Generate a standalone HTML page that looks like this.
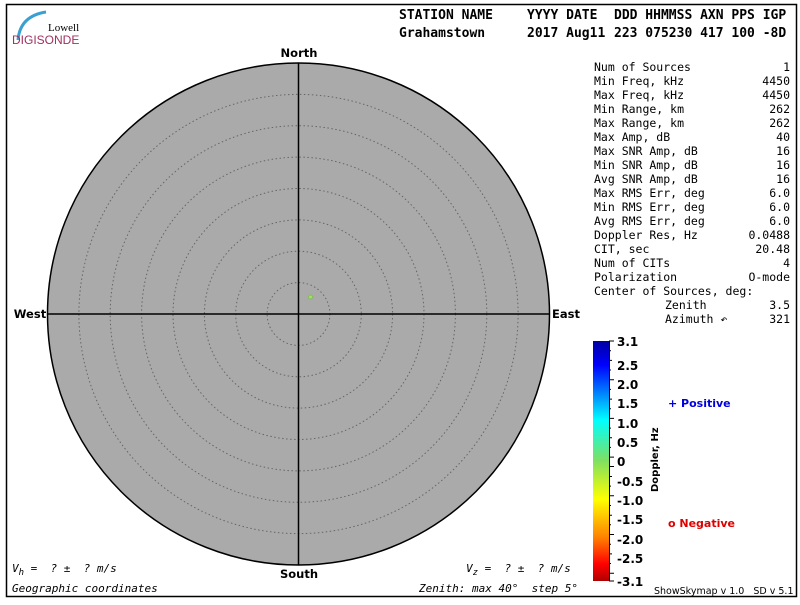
<!DOCTYPE html>
<html><head><meta charset="utf-8"><style>
body{margin:0;background:#fff}
.m{font-family:"DejaVu Sans Mono","Liberation Mono",monospace}
.s{font-family:"DejaVu Sans","Liberation Sans",sans-serif}
</style></head><body>
<svg width="800" height="600" xmlns="http://www.w3.org/2000/svg">
<defs>
<linearGradient id="cb" x1="0" y1="0" x2="0" y2="1">
<stop offset="0" stop-color="#0000a0"/>
<stop offset="0.1" stop-color="#0000ff"/>
<stop offset="0.33" stop-color="#00ffff"/>
<stop offset="0.5" stop-color="#80e060"/>
<stop offset="0.66" stop-color="#ffff00"/>
<stop offset="0.82" stop-color="#ff8000"/>
<stop offset="0.93" stop-color="#ff0000"/>
<stop offset="1" stop-color="#b00000"/>
</linearGradient>
</defs>
<rect x="6.5" y="4.5" width="790" height="592" fill="none" stroke="#000" stroke-width="1.5"/>
<path d="M18 40 Q20 16 46 12" stroke="#3aa0d0" stroke-width="3" fill="none"/>
<text x="48" y="31" font-size="11" style="font-family:'Liberation Serif',serif">Lowell</text>
<text x="12" y="44" font-size="12" fill="#a03060" style="font-family:'Liberation Sans',sans-serif">DIGISONDE</text>
<g font-size="13" font-weight="bold" class="m">
<text x="399" y="19">STATION NAME</text><text x="527" y="19">YYYY DATE</text><text x="614" y="19">DDD HHMMSS AXN PPS IGP</text>
<text x="399" y="37">Grahamstown</text><text x="527" y="37">2017 Aug11</text><text x="614" y="37">223 075230 417 100 -8D</text>
</g>
<circle cx="298.5" cy="314" r="251" fill="#aaaaaa" stroke="#000" stroke-width="1.5"/>
<g fill="none" stroke="#666" stroke-width="1" stroke-dasharray="1.5,2.5">
<circle cx="298.5" cy="314" r="31.4"/><circle cx="298.5" cy="314" r="62.8"/><circle cx="298.5" cy="314" r="94.1"/>
<circle cx="298.5" cy="314" r="125.5"/><circle cx="298.5" cy="314" r="156.9"/><circle cx="298.5" cy="314" r="188.3"/>
<circle cx="298.5" cy="314" r="219.6"/>
</g>
<line x1="298.5" y1="63" x2="298.5" y2="565" stroke="#000" stroke-width="1.5"/>
<line x1="47.5" y1="314" x2="549.5" y2="314" stroke="#000" stroke-width="1.5"/>
<circle cx="310.5" cy="297" r="2" fill="#a0e070" stroke="#80c050"/>
<g font-size="11.5" font-weight="bold" class="s" text-anchor="middle">
<text x="299" y="57">North</text><text x="299" y="578">South</text><text x="30" y="318">West</text><text x="566" y="318">East</text>
</g>
<g font-size="11.5" class="m">
<text x="594" y="71">Num of Sources</text><text x="790" y="71" text-anchor="end">1</text>
<text x="594" y="85">Min Freq, kHz</text><text x="790" y="85" text-anchor="end">4450</text>
<text x="594" y="99">Max Freq, kHz</text><text x="790" y="99" text-anchor="end">4450</text>
<text x="594" y="113">Min Range, km</text><text x="790" y="113" text-anchor="end">262</text>
<text x="594" y="127">Max Range, km</text><text x="790" y="127" text-anchor="end">262</text>
<text x="594" y="141">Max Amp, dB</text><text x="790" y="141" text-anchor="end">40</text>
<text x="594" y="155">Max SNR Amp, dB</text><text x="790" y="155" text-anchor="end">16</text>
<text x="594" y="169">Min SNR Amp, dB</text><text x="790" y="169" text-anchor="end">16</text>
<text x="594" y="183">Avg SNR Amp, dB</text><text x="790" y="183" text-anchor="end">16</text>
<text x="594" y="197">Max RMS Err, deg</text><text x="790" y="197" text-anchor="end">6.0</text>
<text x="594" y="211">Min RMS Err, deg</text><text x="790" y="211" text-anchor="end">6.0</text>
<text x="594" y="225">Avg RMS Err, deg</text><text x="790" y="225" text-anchor="end">6.0</text>
<text x="594" y="239">Doppler Res, Hz</text><text x="790" y="239" text-anchor="end">0.0488</text>
<text x="594" y="253">CIT, sec</text><text x="790" y="253" text-anchor="end">20.48</text>
<text x="594" y="267">Num of CITs</text><text x="790" y="267" text-anchor="end">4</text>
<text x="594" y="281">Polarization</text><text x="790" y="281" text-anchor="end">O-mode</text>
<text x="594" y="295">Center of Sources, deg:</text>
<text x="665" y="309">Zenith</text><text x="790" y="309" text-anchor="end">3.5</text>
<text x="665" y="323">Azimuth ↶</text><text x="790" y="323" text-anchor="end">321</text>
</g>
<rect x="593" y="341" width="16" height="240" fill="url(#cb)"/>
<line x1="609.5" y1="341" x2="609.5" y2="581" stroke="#000"/>
<g font-size="12" font-weight="bold" class="s">
<text x="617" y="346">3.1</text><text x="617" y="370">2.5</text><text x="617" y="389">2.0</text><text x="617" y="408">1.5</text>
<text x="617" y="428">1.0</text><text x="617" y="447">0.5</text><text x="617" y="466">0</text><text x="617" y="486">-0.5</text>
<text x="617" y="505">-1.0</text><text x="617" y="524">-1.5</text><text x="617" y="544">-2.0</text><text x="617" y="563">-2.5</text>
<text x="617" y="586">-3.1</text>
<text transform="translate(658,492) rotate(-90)" font-size="10">Doppler, Hz</text>
<text x="668" y="407" fill="#0000dd" font-size="11">+&#160;Positive</text>
<text x="668" y="527" fill="#dd0000" font-size="11">o&#160;Negative</text>
</g>
<g font-size="11" font-style="italic" class="m">
<text x="12" y="572">V<tspan font-size="9" dy="3">h</tspan><tspan dy="-3">&#160;=&#160;&#160;?&#160;±&#160;&#160;?&#160;m/s</tspan></text>
<text x="466" y="572">V<tspan font-size="9" dy="3">z</tspan><tspan dy="-3">&#160;=&#160;&#160;?&#160;±&#160;&#160;?&#160;m/s</tspan></text>
<text x="12" y="592">Geographic coordinates</text>
<text x="419" y="592">Zenith:&#160;max&#160;40°&#160;&#160;step&#160;5°</text>
</g>
<text x="654" y="594" font-size="9.5" class="s">ShowSkymap&#160;v&#160;1.0&#160;&#160;&#160;SD&#160;v&#160;5.1</text>
<g stroke="#000">
<path d="M609 341h5M609 360.4h3M609 379.7h5M609 399.1h3M609 418.4h5M609 437.8h3M609 457.1h5M609 466.5h5M609 476.5h3M609 495.8h5M609 515.2h3M609 534.5h5M609 553.9h3M609 573.2h5M609 581h5M609 350.7h2M609 370h2M609 389.4h2M609 408.7h2M609 428.1h2M609 447.4h2M609 486.1h2M609 505.5h2M609 524.8h2M609 544.2h2M609 563.5h2"/>
</g>
</svg>
</body></html>
